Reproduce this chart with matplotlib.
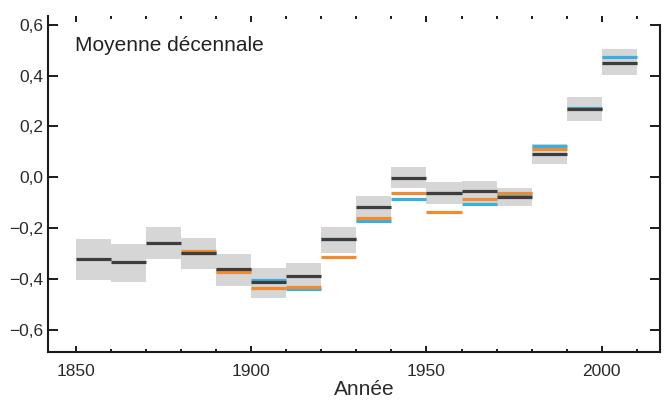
import matplotlib
matplotlib.use("Agg")
import matplotlib.pyplot as plt
from matplotlib.ticker import FixedLocator, MultipleLocator, FuncFormatter

plt.rcParams['font.family'] = ['Liberation Sans', 'DejaVu Sans']

# Decade start years
decades = [1850, 1860, 1870, 1880, 1890, 1900, 1910, 1920, 1930, 1940,
           1950, 1960, 1970, 1980, 1990, 2000]
# HadCRUT4 decadal mean (black) and its uncertainty range (grey boxes)
hadcrut = [-0.320, -0.334, -0.258, -0.296, -0.360, -0.410, -0.387, -0.242,
           -0.117, -0.003, -0.062, -0.054, -0.078, 0.093, 0.270, 0.451]
unc_low = [-0.404, -0.411, -0.322, -0.360, -0.427, -0.472, -0.443, -0.296,
           -0.174, -0.041, -0.105, -0.102, -0.113, 0.052, 0.223, 0.401]
unc_high = [-0.244, -0.263, -0.196, -0.240, -0.301, -0.355, -0.336, -0.194,
            -0.072, 0.040, -0.020, -0.014, -0.043, 0.131, 0.315, 0.506]
# Other datasets, from 1880 onward
decades_other = [1880, 1890, 1900, 1910, 1920, 1930, 1940, 1950, 1960,
                 1970, 1980, 1990, 2000]
mlost = [-0.290, -0.371, -0.434, -0.431, -0.312, -0.160, -0.063, -0.135,
         -0.085, -0.063, 0.110, 0.270, 0.448]
giss = [-0.296, -0.362, -0.405, -0.439, -0.244, -0.173, -0.085, -0.060,
        -0.104, -0.065, 0.123, 0.272, 0.472]

y_ticks = [-0.6, -0.4, -0.2, 0.0, 0.2, 0.4, 0.6]
x_ticks = [1850, 1900, 1950, 2000]

fig = plt.figure(figsize=(6.64, 4.0), dpi=100)
ax = fig.add_axes([47.5 / 664, 1 - 352 / 400, (660 - 47.5) / 664, (352 - 16) / 400])

grey = '#d6d6d6'
black = '#3d3d3d'
orange = '#ef8c2f'
blue = '#3aaee0'
lw = 2.3

for d, lo, hi in zip(decades, unc_low, unc_high):
    ax.fill_between([d, d + 10], lo, hi, color=grey, linewidth=0, zorder=1)

ax.hlines(giss, decades_other, [d + 10 for d in decades_other], colors=blue,
          linewidth=lw, zorder=2, capstyle='butt')
ax.hlines(mlost, decades_other, [d + 10 for d in decades_other], colors=orange,
          linewidth=lw, zorder=3, capstyle='butt')
ax.hlines(hadcrut, decades, [d + 10 for d in decades], colors=black,
          linewidth=lw, zorder=4, capstyle='butt')

ax.set_xlim(1841.9, 2016.6)
ax.set_ylim(-0.686, 0.634)

ax.yaxis.set_major_locator(FixedLocator(y_ticks))
ax.xaxis.set_major_locator(FixedLocator(x_ticks))
ax.xaxis.set_minor_locator(MultipleLocator(10))


def yfmt(v, pos):
    s = f"{abs(v):.1f}".replace('.', ',')
    return ('\u2212' + s) if v < -1e-9 else s


ax.yaxis.set_major_formatter(FuncFormatter(yfmt))
ax.xaxis.set_major_formatter(FuncFormatter(lambda v, p: f"{int(v)}"))

for side in ['left', 'bottom', 'right']:
    ax.spines[side].set_linewidth(1.5)
    ax.spines[side].set_color('#1a1a1a')
ax.spines['top'].set_visible(False)
ax.spines['right'].set_bounds(-0.686, 0.6)

ax.tick_params(axis='y', which='major', direction='in', length=7, width=1.4,
               left=True, right=True, labelsize=12.5, labelcolor='#2a2a2a',
               pad=3, color='#1a1a1a')
ax.tick_params(axis='x', which='major', direction='in', length=4.5, width=1.4,
               top=True, bottom=True, labelsize=12.5, labelcolor='#2a2a2a',
               pad=9, color='#1a1a1a')
ax.tick_params(axis='x', which='minor', direction='in', length=2.5, width=1.4,
               top=True, bottom=True, color='#1a1a1a')

ax.set_xlabel('Année', fontsize=15, color='#2a2a2a')
ax.xaxis.label.set_verticalalignment('baseline')
ax.xaxis.set_label_coords((364 - 47.5) / 612.5, (352 - 395) / 336)

ax.text((75 - 47.5) / 612.5, (352 - 51) / 336, 'Moyenne décennale',
        transform=ax.transAxes, fontsize=15, color='#222222',
        ha='left', va='baseline')

fig.savefig('out.png', dpi=100)
